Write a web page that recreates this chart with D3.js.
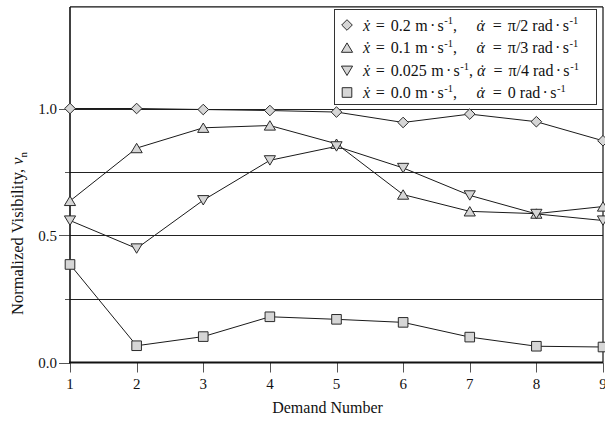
<!DOCTYPE html>
<html>
<head>
<meta charset="utf-8">
<script src="https://cdn.jsdelivr.net/npm/d3@7"></script>
<style>
  html, body { margin: 0; padding: 0; background: #fff; }
  svg { display: block; }
  text { font-family: "Liberation Serif", "Times New Roman", serif; fill: #111; }
</style>
</head>
<body>
<svg id="chart" width="605" height="426"></svg>
<script>
// ---- data ----
const demands = [1, 2, 3, 4, 5, 6, 7, 8, 9];
const seriesDiamond = [1.000, 1.000, 0.996, 0.992, 0.986, 0.945, 0.978, 0.948, 0.873];
const seriesUp      = [0.636, 0.844, 0.924, 0.933, 0.861, 0.661, 0.595, 0.586, 0.614];
const seriesDown    = [0.559, 0.449, 0.639, 0.796, 0.851, 0.766, 0.658, 0.585, 0.559];
const seriesSquare  = [0.386, 0.066, 0.102, 0.180, 0.170, 0.158, 0.100, 0.064, 0.061];
const xTicks = [1, 2, 3, 4, 5, 6, 7, 8, 9];
const yTickLabels = ["0.0", "0.5", "1.0"];
const yMajor = [0, 0.5, 1.0];
const yGrid = [0.25, 0.5, 0.75, 1.0];
const yMinor = [0.25, 0.75];
const legendX = ["0.2", "0.1", "0.025", "0.0"];
const legendA = ["\u03C0/2", "\u03C0/3", "\u03C0/4", "0"];
const shapes = ["diamond", "up", "down", "square"];

(function () {
const svg = d3.select("#chart");
const pL = 70, pR = 603, pT = 6.9, pB = 362.5;
const x = d3.scaleLinear().domain([1, 9]).range([pL, pR]);
const y = d3.scaleLinear().domain([0, 1.4]).range([pB, pT]);

const markerFill = "#d6d6d6", markerStroke = "#2a2a2a";
function shapePath(kind) {
  if (kind === "diamond") return "M0,-5.3L5.3,0L0,5.3L-5.3,0Z";
  if (kind === "up") return "M0,-4.8L5.6,4.6L-5.6,4.6Z";
  if (kind === "down") return "M0,4.8L5.6,-4.6L-5.6,-4.6Z";
  return "M-4.8,-4.8H4.8V4.8H-4.8Z";
}

// grid lines
svg.append("g").selectAll("line").data(yGrid).join("line")
  .attr("x1", pL).attr("x2", pR)
  .attr("y1", d => Math.round(y(d)) + 0.5).attr("y2", d => Math.round(y(d)) + 0.5)
  .attr("stroke", "#222").attr("stroke-width", 1);

// y ticks
svg.append("g").selectAll("line").data(yMajor).join("line")
  .attr("x1", pL - 11).attr("x2", pL)
  .attr("y1", d => Math.round(y(d)) + 0.5).attr("y2", d => Math.round(y(d)) + 0.5)
  .attr("stroke", "#555").attr("stroke-width", 1);
svg.append("g").selectAll("line").data(yMinor).join("line")
  .attr("x1", pL - 5).attr("x2", pL)
  .attr("y1", d => Math.round(y(d)) + 0.5).attr("y2", d => Math.round(y(d)) + 0.5)
  .attr("stroke", "#555").attr("stroke-width", 1);
svg.append("g").selectAll("text").data(yMajor).join("text")
  .attr("x", pL - 13).attr("y", d => y(d) + 5)
  .attr("text-anchor", "end").attr("font-size", 15)
  .text((d, i) => yTickLabels[i]);

// x ticks
svg.append("g").selectAll("line").data(xTicks).join("line")
  .attr("x1", d => Math.round(x(d)) + 0.5).attr("x2", d => Math.round(x(d)) + 0.5)
  .attr("y1", pB).attr("y2", pB + 10)
  .attr("stroke", "#555").attr("stroke-width", 1);
svg.append("g").selectAll("text").data(xTicks).join("text")
  .attr("x", d => x(d)).attr("y", pB + 26)
  .attr("text-anchor", "middle").attr("font-size", 15)
  .text(d => d);

// frame
svg.append("line").attr("x1", pL).attr("x2", pR).attr("y1", pT).attr("y2", pT)
  .attr("stroke", "#111").attr("stroke-width", 1.2);
svg.append("line").attr("x1", pR).attr("x2", pR).attr("y1", pT).attr("y2", pB)
  .attr("stroke", "#111").attr("stroke-width", 1.2);
svg.append("line").attr("x1", pL).attr("x2", pL).attr("y1", pT).attr("y2", pB)
  .attr("stroke", "#111").attr("stroke-width", 1.6);
svg.append("line").attr("x1", pL - 1).attr("x2", pR).attr("y1", pB).attr("y2", pB)
  .attr("stroke", "#111").attr("stroke-width", 2.2);

// axis titles
svg.append("text").attr("x", (pL + pR) / 2 - 9).attr("y", 413)
  .attr("text-anchor", "middle").attr("font-size", 16).text("Demand Number");
const yt = svg.append("text")
  .attr("transform", `translate(23,${y(0.5) - 2}) rotate(-90)`)
  .attr("text-anchor", "middle").attr("font-size", 16.5);
yt.append("tspan").text("Normalized Visibility, ");
yt.append("tspan").attr("font-style", "italic").text("v");
yt.append("tspan").attr("font-size", 11).attr("dy", 4).text("n");

// series
const allSeries = [seriesDiamond, seriesUp, seriesDown, seriesSquare];
const line = d3.line().x((d, i) => x(demands[i])).y(d => y(d));
allSeries.forEach((vals) => {
  svg.append("path").datum(vals).attr("d", line)
    .attr("fill", "none").attr("stroke", "#1a1a1a").attr("stroke-width", 1);
});
allSeries.forEach((vals, si) => {
  svg.append("g").selectAll("path").data(vals).join("path")
    .attr("transform", (d, i) => `translate(${x(demands[i])},${y(d)})`)
    .attr("d", shapePath(shapes[si]))
    .attr("fill", markerFill).attr("stroke", markerStroke).attr("stroke-width", 1);
});

// legend
const lg = svg.append("g");
lg.append("rect").attr("x", 334.5).attr("y", 9.5).attr("width", 262).attr("height", 95)
  .attr("fill", "#fff").attr("stroke", "#333").attr("stroke-width", 1);
const rowY = [25, 47.7, 70.7, 92.5];
const fs = 16, sfs = 10.5;
function piece(px, py, str, opts) {
  opts = opts || {};
  const t = lg.append("text").attr("x", px).attr("y", py + (opts.dy || 0))
    .attr("font-size", opts.size || fs).text(str);
  if (opts.italic) t.attr("font-style", "italic");
  return px + t.node().getComputedTextLength();
}
legendX.forEach((xv, i) => {
  const cy = rowY[i];
  const by = cy + 5.5;
  lg.append("path").attr("transform", `translate(347,${cy})`)
    .attr("d", shapePath(shapes[i]))
    .attr("fill", markerFill).attr("stroke", markerStroke).attr("stroke-width", 1);
  let c = 363;
  c = piece(c, by, "\u1E8B", { italic: true });
  c = piece(c + 5.7, by, "=");
  c = piece(c + 6, by, xv);
  c = piece(c + 4.3, by, "m");
  c = piece(c + 2.3, by, "\u00B7");
  c = piece(c + 2.3, by, "s");
  c = piece(c + 0.6, by, "-1", { size: sfs, dy: -6.5 });
  c = piece(c, by, ",");
  // alpha with dot above, as one text element
  const ax = Math.max(476.5, c + 4);
  const at = lg.append("text").attr("x", ax).attr("y", by).attr("font-size", fs);
  const aSpan = at.append("tspan").attr("font-style", "italic").text("\u03B1");
  const aw = aSpan.node().getComputedTextLength();
  const dSpan = at.append("tspan").text("\u02D9");
  const dw = dSpan.node().getComputedTextLength();
  dSpan.attr("dx", -(aw / 2 + dw / 2) + 1.2);
  c = piece(ax + 16.3, by, "=");
  c = piece(c + 6, by, legendA[i]);
  c = piece(c + 4, by, "rad");
  c = piece(c + 2.3, by, "\u00B7");
  c = piece(c + 2.3, by, "s");
  c = piece(c + 0.6, by, "-1", { size: sfs, dy: -6.5 });
});
})();
</script>
</body>
</html>
